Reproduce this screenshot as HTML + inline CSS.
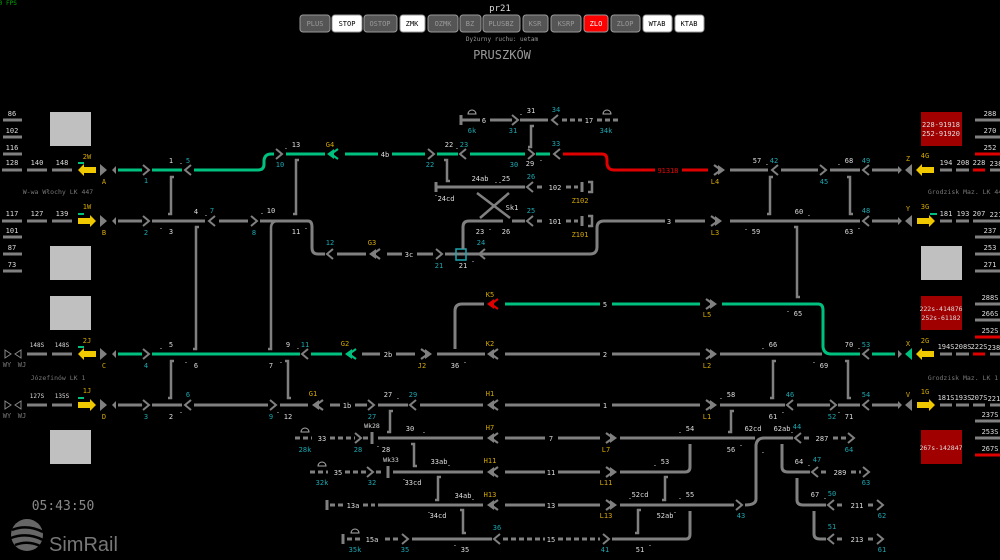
<!DOCTYPE html>
<html><head><meta charset="utf-8"><style>
html,body{margin:0;padding:0;background:#000;width:1000px;height:560px;overflow:hidden}
svg{display:block}
text{font-family:"DejaVu Sans Mono","Liberation Mono",monospace;font-size:7px;fill:#ddd;text-anchor:middle}
.c{fill:#1aa7b0}.y{fill:#d4a800}.rt{fill:#e00}.gt{fill:#777}
.g{stroke:#808080;stroke-width:3;fill:none}
.gr{stroke:#00c080;stroke-width:3;fill:none}
.r{stroke:#e00000;stroke-width:3;fill:none}
.d{stroke:#808080;stroke-width:3;fill:none;stroke-dasharray:5 3}
.b{stroke:#808080;stroke-width:2.5;fill:none}
.sm{font-size:5.5px}
</style></head><body>
<svg width="1000" height="560" viewBox="0 0 1000 560" xmlns="http://www.w3.org/2000/svg">
<defs>
<g id="cr"><polyline points="-3,-5 3,0 -3,5" fill="none" stroke="#808080" stroke-width="2"/></g>
<g id="cl"><polyline points="3,-5 -3,0 3,5" fill="none" stroke="#808080" stroke-width="2"/></g>
<g id="dl"><polygon points="0,0 7,-5 7,5" fill="currentColor"/><polyline points="11,-5 4,0 11,5" fill="none" stroke="currentColor" stroke-width="2.2"/></g>
<g id="dr"><polygon points="0,0 -7,-5 -7,5" fill="currentColor"/><polyline points="-11,-5 -4,0 -11,5" fill="none" stroke="currentColor" stroke-width="2.2"/></g>
<g id="yl"><polygon points="0,0 6,-6 6,-3 18,-3 18,3 6,3 6,6" fill="#f0c800"/></g>
<g id="yr"><polygon points="0,-3 12,-3 12,-6 18,0 12,6 12,3 0,3" fill="#f0c800"/></g>
<g id="tr"><polygon points="0,-6 7,0 0,6" fill="#808080"/></g>
<g id="tl"><polygon points="7,-6 0,0 7,6" fill="#808080"/></g>
<g id="st"><polygon points="4,-4 0,0 4,4" fill="#808080"/></g>
<g id="stt"><polygon points="0,-4 4,0 0,4" fill="#808080"/></g>
<g id="ic"><path d="M-4 0 A4 4 0 0 1 4 0 Z" fill="none" stroke="#aaa" stroke-width="1"/></g>
</defs>

<text x="6" y="5" style="fill:#0a0;font-size:6px">30 FPS</text>
<text x="500" y="11" style="font-size:9px">pr21</text>
<g style="font-size:8px">
<rect x="300" y="15" width="30" height="17" rx="3" fill="#555" stroke="#999"/><text x="315" y="26" style="fill:#999">PLUS</text>
<rect x="332" y="15" width="30" height="17" rx="3" fill="#fff" stroke="#999"/><text x="347" y="26" style="fill:#000">STOP</text>
<rect x="364" y="15" width="33" height="17" rx="3" fill="#555" stroke="#999"/><text x="380" y="26" style="fill:#999">OSTOP</text>
<rect x="400" y="15" width="25" height="17" rx="3" fill="#fff" stroke="#999"/><text x="412" y="26" style="fill:#000">ZMK</text>
<rect x="428" y="15" width="30" height="17" rx="3" fill="#555" stroke="#999"/><text x="443" y="26" style="fill:#999">OZMK</text>
<rect x="460" y="15" width="21" height="17" rx="3" fill="#555" stroke="#999"/><text x="470" y="26" style="fill:#999">BZ</text>
<rect x="483" y="15" width="37" height="17" rx="3" fill="#555" stroke="#999"/><text x="501" y="26" style="fill:#999">PLUSBZ</text>
<rect x="523" y="15" width="25" height="17" rx="3" fill="#555" stroke="#999"/><text x="535" y="26" style="fill:#999">KSR</text>
<rect x="551" y="15" width="30" height="17" rx="3" fill="#555" stroke="#999"/><text x="566" y="26" style="fill:#999">KSRP</text>
<rect x="584" y="15" width="24" height="17" rx="3" fill="#f00" stroke="#999"/><text x="596" y="26" style="fill:#fff">ZLO</text>
<rect x="611" y="15" width="29" height="17" rx="3" fill="#555" stroke="#999"/><text x="625" y="26" style="fill:#999">ZLOP</text>
<rect x="643" y="15" width="29" height="17" rx="3" fill="#fff" stroke="#999"/><text x="657" y="26" style="fill:#000">WTAB</text>
<rect x="675" y="15" width="29" height="17" rx="3" fill="#fff" stroke="#999"/><text x="689" y="26" style="fill:#000">KTAB</text>
</g>
<text x="502" y="41" style="font-size:6px;fill:#999">Dyżurny ruchu: uetam</text>
<text x="502" y="59" style="font-size:12px;fill:#999">PRUSZKÓW</text>

<rect x="50" y="112" width="41" height="34" fill="#c0c0c0"/>
<rect x="50" y="246" width="41" height="34" fill="#c0c0c0"/>
<rect x="50" y="296" width="41" height="34" fill="#c0c0c0"/>
<rect x="50" y="430" width="41" height="34" fill="#c0c0c0"/>
<rect x="921" y="246" width="41" height="34" fill="#c0c0c0"/>
<rect x="921" y="112" width="41" height="34" fill="#a00000"/>
<text x="941" y="127">228-91918</text><text x="941" y="136">252-91920</text>
<rect x="921" y="296" width="41" height="34" fill="#a00000"/>
<text x="941" y="311" style="font-size:6.5px">222s-414876</text><text x="941" y="320" style="font-size:6.5px">252s-61182</text>
<rect x="921" y="430" width="41" height="34" fill="#a00000"/>
<text x="941" y="450" style="font-size:6.5px">267s-142847</text>

<g class="g"><path d="M3 120H22M3 137H22M3 154H22M3 237H22M3 254H22M3 271H22"/></g>
<text x="12" y="116">86</text><text x="12" y="133">102</text><text x="12" y="150">116</text>
<text x="12" y="233">101</text><text x="12" y="250">87</text><text x="12" y="267">73</text>
<g class="g"><path d="M975 120H1000M975 137H1000M990 170H1000M975 221H1000M975 237H1000M975 254H1000M975 271H1000M975 304H1000M975 320H1000M990 354H1000M990 405H1000M975 421H1000M975 438H1000"/></g>
<g class="r"><path d="M975 154H1000M975 337H1000M975 455H1000"/></g>
<g class="sm"><text x="990" y="116">288</text><text x="990" y="133">270</text><text x="990" y="150">252</text><text x="996" y="166">238</text>
<text x="996" y="217">221</text><text x="990" y="233">237</text><text x="990" y="250">253</text><text x="990" y="267">271</text>
<text x="990" y="300">288S</text><text x="990" y="316">266S</text><text x="990" y="333">252S</text><text x="996" y="350">238S</text>
<text x="996" y="401">221S</text><text x="990" y="417">237S</text><text x="990" y="434">253S</text><text x="990" y="451">267S</text></g>

<text x="58" y="194" class="gt" style="font-size:6.5px">W-wa Włochy LK 447</text>
<text x="58" y="380" class="gt" style="font-size:6.5px">Józefinów LK 1</text>
<text x="967" y="194" class="gt" style="font-size:6.5px">Grodzisk Maz. LK 447</text>
<text x="963" y="380" class="gt" style="font-size:6.5px">Grodzisk Maz. LK 1</text>

<!-- Row A -->
<path class="g" d="M2 170H22M27 170H47M52 170H72"/>
<text x="12" y="165">128</text><text x="37" y="165">140</text><text x="62" y="165">148</text>
<use href="#yl" x="78" y="170"/><path d="M78 163H84" stroke="#00c080" stroke-width="2"/>
<text x="87" y="159" class="y">2W</text>
<use href="#tr" x="100" y="170"/><use href="#st" x="112" y="170"/><text x="104" y="184" class="y">A</text>
<path class="gr" d="M118 170H142M152 170H182M194 170H258Q264 170 264 164V160Q265 154 271 154H274M286 154H325M345 154H378M392 154H425M437 154H458M470 154H525M536 154H550"/>
<use href="#cr" x="146" y="170"/><text x="146" y="183" class="c">1</text>
<text x="171" y="163">1</text><text x="181" y="164">.</text><text x="188" y="163" class="c">5</text>
<use href="#cl" x="188" y="170"/>
<use href="#cr" x="279" y="154"/><text x="280" y="167" class="c">10</text>
<text x="296" y="147">13</text><text x="286" y="149">.</text>
<use href="#dl" x="327" y="154" style="color:#00c080"/><text x="330" y="147" class="y">G4</text>
<text x="385" y="157">4b</text>
<use href="#cr" x="431" y="154"/><text x="430" y="167" class="c">22</text>
<text x="449" y="147">22</text><text x="457" y="149">.</text><text x="464" y="147" class="c">23</text>
<use href="#cl" x="463" y="154"/>
<use href="#cr" x="531" y="154"/><text x="514" y="167" class="c">30</text>
<text x="530" y="166">29</text><text x="541" y="161">.</text>
<use href="#cl" x="557" y="154"/><text x="556" y="146" class="c">33</text>
<path class="r" d="M563 154H602Q607 154 607 160V164Q608 170 614 170H655M682 170H708"/>
<text x="668" y="173" class="rt">91318</text>
<use href="#dr" x="725" y="170" style="color:#808080"/><text x="715" y="184" class="y">L4</text>
<path class="g" d="M730 170H768M781 170H818M830 170H860M872 170H898"/>
<use href="#cl" x="775" y="170"/><text x="757" y="163">57</text><text x="767" y="165">.</text><text x="774" y="163" class="c">42</text>
<use href="#cr" x="823" y="170"/><text x="824" y="184" class="c">45</text>
<use href="#cl" x="866" y="170"/><text x="849" y="163">68</text><text x="839" y="165">.</text><text x="866" y="163" class="c">49</text>
<use href="#stt" x="898" y="170"/><use href="#tl" x="905" y="170"/><text x="908" y="161" class="y">Z</text>
<use href="#yl" x="916" y="170"/><text x="925" y="158" class="y">4G</text>
<path class="g" d="M940 170H952M956 170H969"/><path class="r" d="M973 170H985"/>
<g class="sm"><text x="946" y="165">194</text><text x="963" y="165">208</text><text x="979" y="165">228</text></g>

<!-- Row B -->
<path class="g" d="M2 221H22M27 221H47M52 221H72"/>
<text x="12" y="216">117</text><text x="37" y="216">127</text><text x="62" y="216">139</text>
<use href="#yr" x="78" y="221"/><path d="M78 214H84" stroke="#00c080" stroke-width="2"/>
<text x="87" y="209" class="y">1W</text>
<use href="#tr" x="100" y="221"/><use href="#st" x="112" y="221"/><text x="104" y="235" class="y">B</text>
<path class="g" d="M118 221H142M152 221H205M219 221H248M260 221H308Q312 221 312 227V248Q312 254 318 254H325M337 254H366M387 254H402M417 254H433M445 254H590Q597 254 597 247V228Q597 221 604 221H665M675 221H705M730 221H860M872 221H898"/>
<use href="#cr" x="146" y="221"/><text x="146" y="235" class="c">2</text>
<use href="#cl" x="212" y="221"/><text x="196" y="214">4</text><text x="206" y="216">.</text><text x="212" y="213" class="c">7</text>
<text x="171" y="234">3</text><text x="161" y="229">.</text>
<use href="#cr" x="254" y="221"/><text x="254" y="235" class="c">8</text>
<text x="262" y="214">.</text><text x="271" y="213">10</text>
<text x="296" y="234">11</text><text x="306" y="229">.</text>
<use href="#cl" x="330" y="254"/><text x="330" y="245" class="c">12</text>
<use href="#dl" x="369" y="254" style="color:#808080"/><text x="372" y="245" class="y">G3</text>
<text x="409" y="257">3c</text>
<use href="#cr" x="439" y="254"/><text x="439" y="268" class="c">21</text>
<rect x="456" y="249" width="10" height="11" fill="none" stroke="#1aa7b0" stroke-width="1.5"/>
<text x="463" y="268">21</text><text x="473" y="262">.</text>
<use href="#cl" x="482" y="254"/><text x="481" y="245" class="c">24</text>
<text x="669" y="224">3</text>
<use href="#dr" x="722" y="221" style="color:#808080"/><text x="715" y="235" class="y">L3</text>
<text x="799" y="214">60</text><text x="809" y="216">.</text><text x="756" y="234">59</text><text x="746" y="230">.</text>
<text x="849" y="234">63</text><text x="859" y="229">.</text>
<use href="#cl" x="866" y="221"/><text x="866" y="213" class="c">48</text>
<use href="#stt" x="898" y="221"/><use href="#tl" x="905" y="221"/><text x="908" y="211" class="y">Y</text>
<use href="#yr" x="917" y="221"/><text x="925" y="209" class="y">3G</text><path d="M930 214H937" stroke="#00c080" stroke-width="2"/>
<path class="g" d="M940 221H952M956 221H969M973 221H985"/>
<g class="sm"><text x="946" y="216">181</text><text x="963" y="216">193</text><text x="979" y="216">207</text></g>

<!-- top -->
<path class="g" d="M461 115V125M461 120H480M490 120H512M520 120H548"/>
<use href="#ic" x="472" y="114"/><text x="472" y="133" class="c">6k</text><text x="484" y="123">6</text>
<use href="#cr" x="515" y="120"/><text x="513" y="133" class="c">31</text>
<text x="531" y="113">31</text><text x="521" y="115">.</text>
<use href="#cl" x="555" y="120"/><text x="556" y="112" class="c">34</text>
<path class="d" d="M562 120H582M597 120H620"/><text x="589" y="123">17</text>
<use href="#ic" x="607" y="114"/><text x="606" y="133" class="c">34k</text>
<path class="g" d="M436 182V192M436 187H525"/>
<text x="480" y="181">24ab</text><text x="496" y="183">.</text><text x="500" y="183">.</text><text x="506" y="181">25</text>
<text x="446" y="201">24cd</text><text x="436" y="196">.</text>
<use href="#cl" x="530" y="187"/><text x="531" y="179" class="c">26</text>
<path class="d" d="M537 187H545M566 187H578"/><text x="555" y="190">102</text>
<path class="g" d="M582 182V192"/><path class="b" d="M588 182H592V192H588"/><text x="580" y="203" class="y">Z102</text>
<path class="b" d="M477 193L510 218M509 193L480 218"/><text x="512" y="210">Sk1</text>
<path class="g" d="M503 221H469Q463 221 463 227V249M512 221H525"/>
<text x="480" y="234">23</text><text x="490" y="230">.</text><text x="506" y="234">26</text>
<use href="#cl" x="530" y="221"/><text x="531" y="213" class="c">25</text>
<path class="d" d="M537 221H545M566 221H578"/><text x="555" y="224">101</text>
<path class="g" d="M582 216V226"/><path class="b" d="M588 216H592V226H588"/><text x="580" y="237" class="y">Z101</text>

<g class="b">
<path d="M174 177H171V214H168"/>
<path d="M299 160H296V214H293"/>
<path d="M444 160H447V181H450"/>
<path d="M534 126H531V147H528"/>
<path d="M773 177H770V214H767"/>
<path d="M847 177H850V214H853"/>
<path d="M794 227H797V297H800"/>
<path d="M199 227H196V349H193"/>
<path d="M285 221H278Q271 221 271 228V349H268"/>
<path d="M174 361H171V398H168"/>
<path d="M285 361H288V398H291"/>
<path d="M393 411H390V432H387"/>
<path d="M411 444H414V466H417"/>
<path d="M441 477H438V500H435"/>
<path d="M460 510H463V533H466"/>
<path d="M776 361H773V398H770"/>
<path d="M845 361H848V398H851"/>
<path d="M734 411H731V432H728"/>
<path d="M668 477H665V500H662"/>
<path d="M641 510H638V533H635"/>
</g>

<!-- K5 -->
<path class="g" d="M455 349V311Q455 304 462 304H484"/>
<use href="#dl" x="487" y="304" style="color:#e00000"/><text x="490" y="297" class="y">K5</text>
<path class="gr" d="M505 304H600M612 304H700M722 304H818Q823 304 823 310V347Q824 354 831 354H860M872 354H895"/>
<text x="605" y="307">5</text>
<use href="#dr" x="717" y="304" style="color:#808080"/><text x="707" y="317" class="y">L5</text>
<text x="798" y="316">65</text><text x="788" y="312">.</text>

<!-- Row C -->
<polygon points="5,350 11,354 5,358" fill="none" stroke="#888"/><polygon points="21,350 15,354 21,358" fill="none" stroke="#888"/>
<text x="7" y="367" class="gt">WY</text><text x="22" y="367" class="gt">WJ</text>
<path class="g" d="M27 354H47M52 354H72"/><text x="37" y="347" style="font-size:6px">148S</text><text x="62" y="347" style="font-size:6px">148S</text>
<use href="#yl" x="78" y="354"/><path d="M78 347H84" stroke="#00c080" stroke-width="2"/><text x="87" y="343" class="y">2J</text>
<use href="#tr" x="100" y="354"/><use href="#st" x="112" y="354"/><text x="104" y="368" class="y">C</text>
<path class="gr" d="M118 354H142M152 354H300M311 354H342"/>
<use href="#cr" x="146" y="354"/><text x="146" y="368" class="c">4</text>
<text x="171" y="347">5</text><text x="161" y="349">.</text><text x="196" y="368">6</text><text x="186" y="363">.</text>
<text x="288" y="347">9</text><text x="298" y="349">.</text><text x="305" y="347" class="c">11</text>
<text x="271" y="368">7</text><text x="281" y="363">.</text>
<use href="#cl" x="305" y="354"/>
<use href="#dl" x="345" y="354" style="color:#00c080"/><text x="345" y="346" class="y">G2</text>
<path class="g" d="M362 354H380M396 354H415M437 354H485M505 354H600M612 354H700M720 354H822"/>
<text x="388" y="357">2b</text>
<use href="#dr" x="432" y="354" style="color:#808080"/><text x="422" y="368" class="y">J2</text>
<text x="455" y="368">36</text><text x="465" y="363">.</text>
<use href="#dl" x="487" y="354" style="color:#808080"/><text x="490" y="346" class="y">K2</text>
<text x="605" y="357">2</text>
<use href="#dr" x="717" y="354" style="color:#808080"/><text x="707" y="368" class="y">L2</text>
<text x="773" y="347">66</text><text x="763" y="349">.</text><text x="824" y="368">69</text><text x="814" y="363">.</text>
<use href="#cl" x="866" y="354"/><text x="849" y="347">70</text><text x="859" y="349">.</text><text x="866" y="347" class="c">53</text>
<use href="#stt" x="898" y="354"/><polygon points="912,348 905,354 912,360" fill="#00c080"/><text x="908" y="346" class="y">X</text>
<use href="#yl" x="916" y="354"/><text x="925" y="343" class="y">2G</text>
<path class="g" d="M940 354H952M956 354H969"/><path class="r" d="M973 354H985"/>
<g class="sm"><text x="946" y="349">194S</text><text x="963" y="349">208S</text><text x="979" y="349">222S</text></g>

<!-- Row D -->
<polygon points="5,401 11,405 5,409" fill="none" stroke="#888"/><polygon points="21,401 15,405 21,409" fill="none" stroke="#888"/>
<text x="7" y="418" class="gt">WY</text><text x="22" y="418" class="gt">WJ</text>
<path class="g" d="M27 405H47M52 405H72"/><text x="37" y="398" style="font-size:6px">127S</text><text x="62" y="398" style="font-size:6px">135S</text>
<use href="#yr" x="78" y="405"/><path d="M78 398H84" stroke="#00c080" stroke-width="2"/><text x="87" y="393" class="y">1J</text>
<use href="#tr" x="100" y="405"/><use href="#st" x="112" y="405"/><text x="104" y="419" class="y">D</text>
<path class="g" d="M118 405H142M152 405H182M194 405H268M280 405H308M330 405H340M355 405H367M378 405H408M420 405H483M505 405H600M612 405H700M720 405H785M797 405H830M838 405H860M872 405H898"/>
<use href="#cr" x="146" y="405"/><text x="146" y="419" class="c">3</text>
<use href="#cl" x="188" y="405"/><text x="188" y="397" class="c">6</text>
<text x="171" y="419">2</text><text x="181" y="413">.</text>
<use href="#cr" x="273" y="405"/><text x="271" y="419" class="c">9</text><text x="278" y="413">.</text><text x="288" y="419">12</text>
<use href="#dl" x="312" y="405" style="color:#808080"/><text x="313" y="396" class="y">G1</text>
<text x="347" y="408">1b</text>
<use href="#cr" x="371" y="405"/><text x="372" y="419" class="c">27</text>
<use href="#cl" x="413" y="405"/><text x="388" y="397">27</text><text x="398" y="399">.</text><text x="413" y="397" class="c">29</text>
<use href="#dl" x="487" y="405" style="color:#808080"/><text x="490" y="396" class="y">H1</text>
<text x="605" y="408">1</text>
<use href="#dr" x="717" y="405" style="color:#808080"/><text x="707" y="419" class="y">L1</text>
<use href="#cl" x="790" y="405"/><text x="731" y="397">58</text><text x="721" y="399">.</text><text x="790" y="397" class="c">46</text>
<text x="773" y="419">61</text><text x="783" y="413">.</text>
<use href="#cr" x="833" y="405"/><text x="832" y="419" class="c">52</text><text x="839" y="413">.</text><text x="849" y="419">71</text>
<use href="#cl" x="866" y="405"/><text x="866" y="397" class="c">54</text>
<use href="#stt" x="898" y="405"/><use href="#tl" x="905" y="405"/><text x="908" y="397" class="y">V</text>
<use href="#yr" x="917" y="405"/><text x="925" y="394" class="y">1G</text>
<path class="g" d="M940 405H952M956 405H969M973 405H985"/>
<g class="sm"><text x="946" y="400">181S</text><text x="963" y="400">193S</text><text x="979" y="400">207S</text></g>

<!-- H7 -->
<use href="#ic" x="305" y="432"/><path class="d" d="M295 438H312M330 438H355M363 438H368"/>
<text x="322" y="441">33</text><text x="305" y="452" class="c">28k</text>
<use href="#cr" x="358" y="438"/><text x="358" y="452" class="c">28</text>
<path class="g" d="M372 432V444M378 438H483M505 438H545M558 438H600M620 438H755M763 438H793"/>
<text x="372" y="428" style="font-size:6.5px">Wk28</text>
<text x="410" y="431">30</text><text x="424" y="433">.</text><text x="386" y="452">28</text><text x="378" y="447">.</text>
<use href="#dl" x="487" y="438" style="color:#808080"/><text x="490" y="430" class="y">H7</text>
<text x="551" y="441">7</text>
<use href="#dr" x="617" y="438" style="color:#808080"/><text x="606" y="452" class="y">L7</text>
<text x="690" y="431">54</text><text x="680" y="433">.</text><text x="753" y="431">62cd</text>
<text x="731" y="452">56</text><text x="741" y="446">.</text><text x="763" y="453">.</text>
<text x="782" y="431">62ab</text><text x="792" y="433">.</text><text x="797" y="429" class="c">44</text>
<use href="#cl" x="798" y="438"/><path class="d" d="M804 438H812M833 438H846"/><text x="822" y="441">287</text>
<use href="#cr" x="851" y="438"/><text x="849" y="452" class="c">64</text>

<!-- H11 -->
<use href="#ic" x="322" y="466"/><path class="d" d="M310 472H328M345 472H367M376 472H382"/>
<text x="338" y="475">35</text><text x="322" y="485" class="c">32k</text>
<use href="#cr" x="370" y="472"/><text x="372" y="485" class="c">32</text>
<path class="g" d="M388 466V478M393 472H483M505 472H545M558 472H600M620 472H685Q690 472 690 467V444"/>
<text x="391" y="462" style="font-size:6.5px">Wk33</text>
<text x="439" y="464">33ab</text><text x="449" y="466">.</text><text x="413" y="485">33cd</text><text x="404" y="480">.</text>
<use href="#dl" x="487" y="472" style="color:#808080"/><text x="490" y="463" class="y">H11</text>
<text x="551" y="475">11</text>
<use href="#dr" x="617" y="472" style="color:#808080"/><text x="606" y="485" class="y">L11</text>
<text x="665" y="464">53</text><text x="655" y="466">.</text>

<!-- H13 -->
<path class="g" d="M327 500V510"/><path class="d" d="M330 505H343M363 505H375"/><text x="353" y="508">13a</text>
<path class="g" d="M378 505H483M505 505H545M558 505H600M620 505H734"/>
<text x="463" y="498">34ab</text><text x="473" y="500">.</text><text x="438" y="518">34cd</text><text x="429" y="513">.</text>
<use href="#dl" x="487" y="505" style="color:#808080"/><text x="490" y="497" class="y">H13</text>
<text x="551" y="508">13</text>
<use href="#dr" x="617" y="505" style="color:#808080"/><text x="606" y="518" class="y">L13</text>
<text x="640" y="497">52cd</text><text x="630" y="499">.</text><text x="690" y="497">55</text><text x="680" y="499">.</text>
<text x="665" y="518">52ab</text><text x="675" y="513">.</text>
<use href="#cr" x="739" y="505"/><text x="741" y="518" class="c">43</text>

<!-- 15 -->
<path class="g" d="M343 534V544"/><use href="#ic" x="355" y="533"/>
<path class="d" d="M347 539H360M385 539H400"/><text x="372" y="542">15a</text><text x="355" y="552" class="c">35k</text>
<use href="#cr" x="405" y="539"/><text x="405" y="552" class="c">35</text>
<path class="g" d="M412 539H492"/><text x="465" y="552">35</text><text x="455" y="546">.</text>
<use href="#cl" x="497" y="539"/><text x="497" y="530" class="c">36</text>
<path class="d" d="M503 539H545M558 539H600"/><text x="551" y="542">15</text>
<use href="#cr" x="606" y="539"/><text x="605" y="552" class="c">41</text>
<path class="g" d="M612 539H686Q690 539 690 534V511"/>
<text x="640" y="552">51</text><text x="650" y="546">.</text>

<!-- right lower fan -->
<path class="g" d="M745 505Q756 505 756 499V445Q757 438 764 438M782 444V467Q782 472 788 472H810M797 478V500Q797 505 803 505H826M814 511V534Q814 539 820 539H826"/>
<text x="799" y="464">64</text><text x="809" y="466">.</text><text x="817" y="462" class="c">47</text>
<use href="#cl" x="815" y="472"/><path class="d" d="M821 472H829M851 472H861"/><text x="840" y="475">289</text>
<use href="#cr" x="866" y="472"/><text x="866" y="485" class="c">63</text>
<text x="815" y="497">67</text><text x="825" y="499">.</text><text x="832" y="496" class="c">50</text>
<use href="#cl" x="831" y="505"/><path class="d" d="M837 505H845M868 505H876"/><text x="857" y="508">211</text>
<use href="#cr" x="880" y="505"/><text x="882" y="518" class="c">62</text>
<text x="832" y="529" class="c">51</text>
<use href="#cl" x="831" y="539"/><path class="d" d="M837 539H845M868 539H876"/><text x="857" y="542">213</text>
<use href="#cr" x="880" y="539"/><text x="882" y="552" class="c">61</text>

<text x="63" y="510" style="font-size:13px;fill:#888">05:43:50</text>
<circle cx="27" cy="535" r="16" fill="#666"/>
<path d="M12 530Q27 524 43 532M11 538Q27 532 43 540M15 545Q28 540 40 546" stroke="#000" stroke-width="2.5" fill="none"/>
<text x="49" y="551" style="font-size:20px;fill:#777;text-anchor:start;font-family:'Liberation Sans',sans-serif">SimRail</text>
</svg>
</body></html>
